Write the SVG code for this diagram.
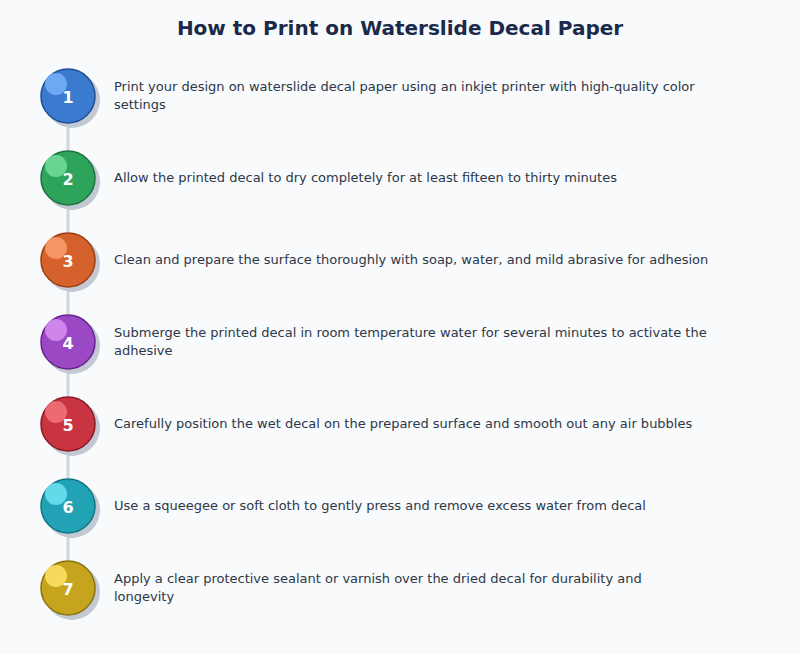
<svg xmlns="http://www.w3.org/2000/svg" width="800" height="654" viewBox="0 0 800 654">
<style>
.title{font-family:"DejaVu Sans",sans-serif;font-weight:bold;font-size:20px;fill:#1b2a4a;text-anchor:middle}
.lbl{font-family:"DejaVu Sans",sans-serif;font-size:13px;fill:#2d3748}
.num{font-family:"DejaVu Sans",sans-serif;font-weight:bold;font-size:16px;fill:#ffffff;text-anchor:middle}
.conn{stroke:#cfd6e0;stroke-width:3}
.shadow{fill:#c3c9d3}
.hl{opacity:0.9}
</style>
<rect width="800" height="654" fill="#f8fafc"/>
<text class="title" x="400" y="35">How to Print on Waterslide Decal Paper</text>
<g id="connectors">
<line class="conn" x1="68" y1="124" x2="68" y2="150"/>
<line class="conn" x1="68" y1="206" x2="68" y2="232"/>
<line class="conn" x1="68" y1="288" x2="68" y2="314"/>
<line class="conn" x1="68" y1="370" x2="68" y2="396"/>
<line class="conn" x1="68" y1="452" x2="68" y2="478"/>
<line class="conn" x1="68" y1="534" x2="68" y2="560"/>
</g>
<g id="step1">
<circle class="shadow" cx="72" cy="100" r="28"/>
<circle cx="68" cy="96" r="27" fill="#3a7bd0" stroke="#1d4d96" stroke-width="1.5"/>
<circle class="hl" cx="56" cy="84" r="11" fill="#72aef5"/>
<text class="num" x="68" y="103">1</text>
<text class="lbl" x="114" y="91">Print your design on waterslide decal paper using an inkjet printer with high-quality color</text>
<text class="lbl" x="114" y="109">settings</text>
</g>
<g id="step2">
<circle class="shadow" cx="72" cy="182" r="28"/>
<circle cx="68" cy="178" r="27" fill="#2ea35c" stroke="#1c7340" stroke-width="1.5"/>
<circle class="hl" cx="56" cy="166" r="11" fill="#6fdc98"/>
<text class="num" x="68" y="185">2</text>
<text class="lbl" x="114" y="182">Allow the printed decal to dry completely for at least fifteen to thirty minutes</text>
</g>
<g id="step3">
<circle class="shadow" cx="72" cy="264" r="28"/>
<circle cx="68" cy="260" r="27" fill="#d5622c" stroke="#9c3e15" stroke-width="1.5"/>
<circle class="hl" cx="56" cy="248" r="11" fill="#f89a6a"/>
<text class="num" x="68" y="267">3</text>
<text class="lbl" x="114" y="264">Clean and prepare the surface thoroughly with soap, water, and mild abrasive for adhesion</text>
</g>
<g id="step4">
<circle class="shadow" cx="72" cy="346" r="28"/>
<circle cx="68" cy="342" r="27" fill="#9a48c4" stroke="#66248c" stroke-width="1.5"/>
<circle class="hl" cx="56" cy="330" r="11" fill="#d68cf2"/>
<text class="num" x="68" y="349">4</text>
<text class="lbl" x="114" y="337">Submerge the printed decal in room temperature water for several minutes to activate the</text>
<text class="lbl" x="114" y="355">adhesive</text>
</g>
<g id="step5">
<circle class="shadow" cx="72" cy="428" r="28"/>
<circle cx="68" cy="424" r="27" fill="#c83440" stroke="#8a1b26" stroke-width="1.5"/>
<circle class="hl" cx="56" cy="412" r="11" fill="#f07178"/>
<text class="num" x="68" y="431">5</text>
<text class="lbl" x="114" y="428">Carefully position the wet decal on the prepared surface and smooth out any air bubbles</text>
</g>
<g id="step6">
<circle class="shadow" cx="72" cy="510" r="28"/>
<circle cx="68" cy="506" r="27" fill="#22a3b5" stroke="#127482" stroke-width="1.5"/>
<circle class="hl" cx="56" cy="494" r="11" fill="#6ae0ef"/>
<text class="num" x="68" y="513">6</text>
<text class="lbl" x="114" y="510">Use a squeegee or soft cloth to gently press and remove excess water from decal</text>
</g>
<g id="step7">
<circle class="shadow" cx="72" cy="592" r="28"/>
<circle cx="68" cy="588" r="27" fill="#c6a41e" stroke="#8a720e" stroke-width="1.5"/>
<circle class="hl" cx="56" cy="576" r="11" fill="#fbe063"/>
<text class="num" x="68" y="595">7</text>
<text class="lbl" x="114" y="583">Apply a clear protective sealant or varnish over the dried decal for durability and</text>
<text class="lbl" x="114" y="601">longevity</text>
</g>
</svg>
